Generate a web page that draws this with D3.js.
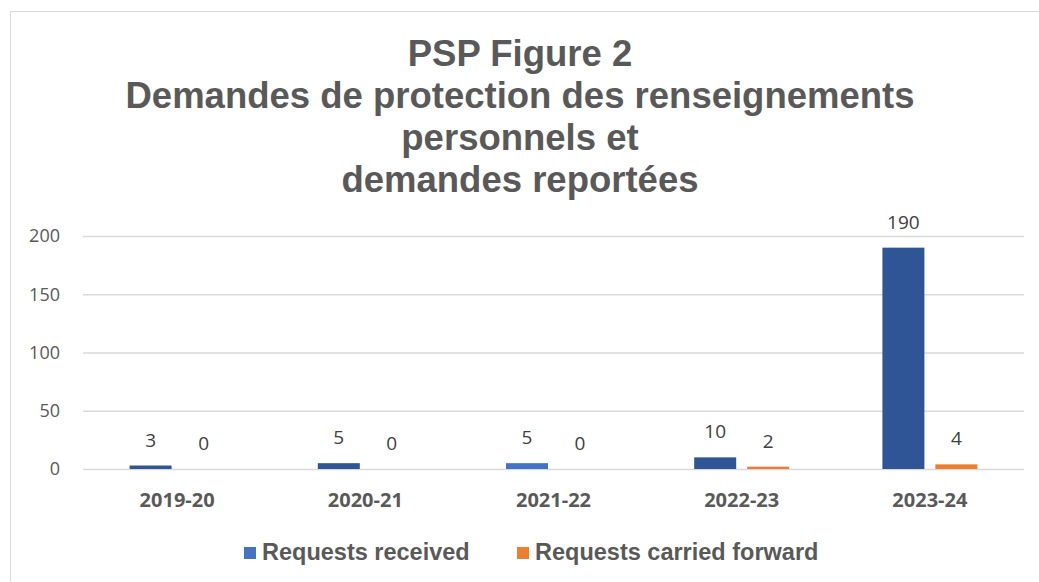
<!DOCTYPE html>
<html>
<head>
<meta charset="utf-8">
<script src="https://cdn.jsdelivr.net/npm/d3@7"></script>
<style>
  html, body { margin: 0; padding: 0; background: #fff; }
  svg { display: block; }
</style>
</head>
<body>
<svg id="chart" width="1039" height="582"></svg>
<script>
const categories = ['2019-20', '2020-21', '2021-22', '2022-23', '2023-24']
const received = [3, 5, 5, 10, 190]
const carriedForward = [0, 0, 0, 2, 4]
const seriesNames = ['Requests received', 'Requests carried forward']
const yTicks = [0, 50, 100, 150, 200]
const titleLines = [
  'PSP Figure 2',
  'Demandes de protection des renseignements',
  'personnels et',
  'demandes reportées'
]

// the 2021-22 bar uses the lighter blue in the original
const receivedColors = ['#2F5597', '#2F5597', '#4472C4', '#2F5597', '#2F5597']
const seriesColors = ['#4472C4', '#ED7D31']

const svg = d3.select('#chart')
const margin = { left: 83, right: 15, top: 236, bottom: 113 }
const width = 1039
const height = 582

svg.append('rect')
  .attr('x', 10.5).attr('y', 11.5)
  .attr('width', 1040).attr('height', 600)
  .attr('fill', '#fff')
  .attr('stroke', '#d9d9d9')

const x = d3.scaleBand()
  .domain(categories)
  .range([margin.left, width - margin.right])

const y = d3.scaleLinear()
  .domain([0, 200])
  .range([height - margin.bottom, margin.top])

/* title */
svg.append('text')
  .attr('font-family', 'Liberation Sans, Arial, sans-serif')
  .attr('font-weight', 'bold')
  .attr('font-size', 36.5)
  .attr('fill', '#595959')
  .attr('text-anchor', 'middle')
  .selectAll('tspan')
  .data(titleLines)
  .join('tspan')
  .attr('x', 520)
  .attr('y', (d, i) => 66 + i * 42)
  .text(d => d)

/* grid + y axis */
const yAxis = d3.axisLeft(y)
  .tickValues(yTicks)
  .tickSize(-(width - margin.left - margin.right))
  .tickPadding(23)

svg.append('g')
  .attr('transform', `translate(${margin.left},0)`)
  .call(yAxis)
  .call(g => g.select('.domain').remove())
  .call(g => g.selectAll('.tick line').attr('stroke', '#d9d9d9').attr('stroke-width', 1.3))
  .call(g => g.selectAll('.tick text')
    .attr('font-family', 'Open Sans, sans-serif')
    .attr('font-size', 18)
    .attr('fill', '#595959'))

/* x axis labels */
const xAxis = d3.axisBottom(x).tickSize(0).tickPadding(0)
svg.append('g')
  .attr('transform', `translate(0,${y(0)})`)
  .call(xAxis)
  .call(g => g.select('.domain').remove())
  .call(g => g.selectAll('.tick text')
    .attr('dy', null)
    .attr('y', 38)
    .attr('font-family', 'Open Sans, sans-serif')
    .attr('font-weight', 'bold')
    .attr('font-size', 20)
    .attr('fill', '#595959'))

/* bars */
const barW = 42
const gap = 11
const series = [
  { name: seriesNames[0], values: received, offset: -gap / 2 - barW, colors: receivedColors },
  { name: seriesNames[1], values: carriedForward, offset: gap / 2, colors: categories.map(() => seriesColors[1]) }
]

series.forEach(s => {
  const cx = c => x(c) + x.bandwidth() / 2 + s.offset
  const g = svg.append('g')
  g.selectAll('rect')
    .data(categories)
    .join('rect')
    .attr('x', c => cx(c))
    .attr('width', barW)
    .attr('y', (c, i) => y(s.values[i]))
    .attr('height', (c, i) => y(0) - y(s.values[i]))
    .attr('fill', (c, i) => s.colors[i])

  g.selectAll('text')
    .data(categories)
    .join('text')
    .attr('x', c => cx(c) + barW / 2)
    .attr('y', (c, i) => y(s.values[i]) - 19)
    .attr('text-anchor', 'middle')
    .attr('font-family', 'Open Sans, sans-serif')
    .attr('font-size', 19)
    .attr('fill', '#404040')
    .text((c, i) => s.values[i])
})

/* legend */
const legend = svg.append('g')
const legendX = [244, 517]
seriesNames.forEach((name, i) => {
  legend.append('rect')
    .attr('x', legendX[i]).attr('y', 547)
    .attr('width', 12).attr('height', 12)
    .attr('fill', seriesColors[i])
  legend.append('text')
    .attr('x', legendX[i] + 18).attr('y', 560)
    .attr('font-family', 'Liberation Sans, Arial, sans-serif')
    .attr('font-weight', 'bold')
    .attr('font-size', 23.5)
    .attr('fill', '#595959')
    .text(name)
})
</script>
</body>
</html>
